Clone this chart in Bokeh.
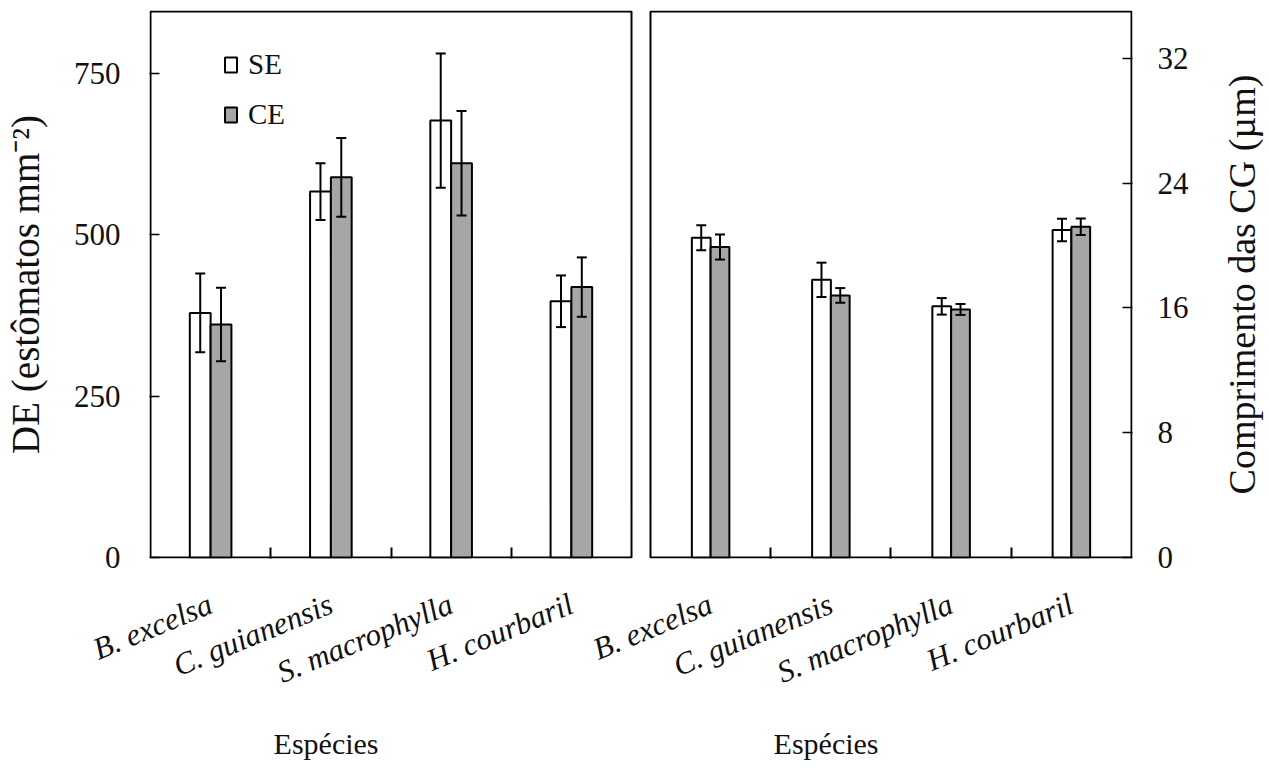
import math
from bokeh.plotting import figure
from bokeh.models import (Range1d, FixedTicker, ColumnDataSource, Whisker, TeeHead,
                          Legend, LegendItem, LinearAxis)
from bokeh.layouts import row
from bokeh.embed import file_html
from bokeh.resources import INLINE

# ---------------- data ----------------
species = ["B. excelsa", "C. guianensis", "S. macrophylla", "H. courbaril"]
series = ["SE", "CE"]

de_se = [379, 567, 677, 397]
de_se_err = [61, 44, 104, 40]
de_ce = [361, 589, 611, 419]
de_ce_err = [57, 61, 81, 46]

cg_se = [20.5, 17.8, 16.1, 21.0]
cg_se_err = [0.8, 1.1, 0.53, 0.72]
cg_ce = [19.9, 16.8, 15.9, 21.2]
cg_ce_err = [0.8, 0.47, 0.35, 0.53]

de_ticks = [0, 250, 500, 750]
cg_ticks = [0, 8, 16, 24, 32]
de_max = 846
cg_max = 35

de_label = "DE (estômatos mm⁻²)"
cg_label = "Comprimento das CG (µm)"
x_label = "Espécies"

# ---------------- style / layout ----------------
FONT = "Liberation Serif"
TXT = "#111111"
GRAY = "#a6a6a6"
H = 769
W_MAIN = 1202
W_SIDE = 67
B_LEFT, B_RIGHT, B_TOP = 148, 70, 9
FRAME_W = W_MAIN - B_LEFT - B_RIGHT
FRAME_H = 549
GAP_PX, PAD_PX = 19, 1
n = len(species)
UNIT = (FRAME_W - GAP_PX - 2 * PAD_PX) / (2 * n)
G = GAP_PX / UNIT
P = PAD_PX / UNIT
PY = de_max / (FRAME_H - 2)
R0 = n + G                     # start of right panel (category units)

p = figure(width=W_MAIN, height=H, x_range=Range1d(-P, 2 * n + G + P),
           y_range=Range1d(-PY, de_max + PY), toolbar_location=None,
           output_backend="svg", min_border_left=B_LEFT, min_border_right=B_RIGHT,
           min_border_top=B_TOP, min_border_bottom=H - B_TOP - FRAME_H, title=None)
p.extra_y_ranges = {"cg": Range1d(-cg_max / (FRAME_H - 2), cg_max + cg_max / (FRAME_H - 2))}
p.grid.visible = False
p.outline_line_color = None
p.background_fill_color = "white"
p.border_fill_color = "white"

# panel frames
p.quad(left=[0, R0], right=[n, R0 + n], bottom=[0, 0], top=[de_max, de_max],
       fill_color=None, line_color="black", line_width=2)


def panel(x0, se, se_err, ce, ce_err, bar_w, yname):
    kw = {} if yname is None else {"y_range_name": yname}
    centers = [x0 + i + 0.5 for i in range(n)]
    rends = []
    for vals, errs, off, fill in ((se, se_err, -bar_w / 2, "white"),
                                  (ce, ce_err, bar_w / 2, GRAY)):
        src = ColumnDataSource(dict(x=[c + off for c in centers], top=vals,
                                    upper=[v + e for v, e in zip(vals, errs)],
                                    lower=[v - e for v, e in zip(vals, errs)]))
        r = p.vbar(x="x", top="top", width=bar_w, bottom=0, source=src,
                   fill_color=fill, line_color="black", line_width=2, **kw)
        rends.append(r)
        w = Whisker(base="x", upper="upper", lower="lower", source=src,
                    line_color="black", line_width=2, level="overlay",
                    upper_head=TeeHead(size=10, line_width=2, line_color="black"),
                    lower_head=TeeHead(size=10, line_width=2, line_color="black"), **kw)
        p.add_layout(w)
    return centers, rends


left_c, rends = panel(0, de_se, de_se_err, de_ce, de_ce_err, 0.173, None)
right_c, _ = panel(R0, cg_se, cg_se_err, cg_ce, cg_ce_err, 0.156, "cg")

# x axis with species names
xa = p.xaxis[0]
xa.ticker = FixedTicker(ticks=left_c + right_c,
                        minor_ticks=[1, 2, 3] + [R0 + k for k in (1, 2, 3)])
xa.major_label_overrides = {c: s for c, s in zip(left_c + right_c, species + species)}
xa.major_tick_in = 0
xa.major_tick_out = 0
xa.minor_tick_in = 11
xa.minor_tick_out = 0
xa.minor_tick_line_width = 2
xa.axis_line_color = None
xa.major_label_orientation = 0.39
xa.major_label_standoff = 44
xa.major_label_text_font = FONT
xa.major_label_text_font_style = "italic"
xa.major_label_text_font_size = "31px"
xa.major_label_text_color = TXT

# second row below: the two "Espécies" titles
title_pos = [n / 2 - 0.54, R0 + n / 2 - 0.54]
xa2 = LinearAxis(ticker=FixedTicker(ticks=title_pos, minor_ticks=[]),
                 major_label_overrides={t: x_label for t in title_pos},
                 axis_line_color=None, major_tick_line_color=None,
                 major_tick_in=0, major_tick_out=0, minor_tick_out=0,
                 minor_tick_line_color=None, major_label_standoff=18,
                 major_label_text_font=FONT, major_label_text_font_size="30px",
                 major_label_text_color=TXT)
p.add_layout(xa2, "below")

# left y axis
ya = p.yaxis[0]
ya.ticker = FixedTicker(ticks=de_ticks)
ya.major_tick_in = 10
ya.major_tick_out = 0
ya.minor_tick_line_color = None
ya.axis_line_color = None
ya.major_tick_line_width = 1.5
ya.major_label_standoff = 29
ya.major_label_text_font = FONT
ya.major_label_text_font_size = "31px"
ya.major_label_text_color = TXT
ya.axis_label = de_label
ya.axis_label_text_font = FONT
ya.axis_label_text_font_style = "normal"
ya.axis_label_text_font_size = "39px"
ya.axis_label_text_color = TXT
ya.axis_label_standoff = 24

# right y axis
yr = LinearAxis(y_range_name="cg", ticker=FixedTicker(ticks=cg_ticks),
                major_tick_in=10, major_tick_out=0, minor_tick_line_color=None,
                axis_line_color=None, major_tick_line_width=1.5,
                major_label_standoff=25, major_label_text_font=FONT,
                major_label_text_font_size="31px", major_label_text_color=TXT)
p.add_layout(yr, "right")

# legend
lg = Legend(items=[LegendItem(label=s, renderers=[r]) for s, r in zip(series, rends)],
            location=(74, FRAME_H - 122), padding=0, margin=0, spacing=17,
            glyph_width=15, glyph_height=19, label_standoff=10,
            border_line_color=None, background_fill_alpha=0,
            label_text_font=FONT, label_text_font_size="29px", label_text_color=TXT)
p.add_layout(lg, "center")

# narrow strip whose (invisible) left axis carries the right-hand title,
# so that it reads bottom to top like the reference
side = figure(width=W_SIDE, height=H, x_range=Range1d(0, 1), y_range=Range1d(0, 1),
              toolbar_location=None, output_backend="svg", x_axis_type=None,
              y_axis_location="left", min_border_left=60, min_border_right=0,
              min_border_top=10, min_border_bottom=185, title=None)
side.grid.visible = False
side.outline_line_color = None
side.background_fill_color = "white"
side.border_fill_color = "white"
sa = side.yaxis[0]
sa.ticker = FixedTicker(ticks=[], minor_ticks=[])
sa.axis_line_color = None
sa.major_tick_line_color = None
sa.minor_tick_line_color = None
sa.major_tick_out = 0
sa.minor_tick_out = 0
sa.major_label_standoff = 0
sa.axis_label = cg_label
sa.axis_label_standoff = 0
sa.axis_label_text_font = FONT
sa.axis_label_text_font_style = "normal"
sa.axis_label_text_font_size = "38px"
sa.axis_label_text_color = TXT

layout = row(p, side)
open("out.html", "w").write(file_html(layout, INLINE))
